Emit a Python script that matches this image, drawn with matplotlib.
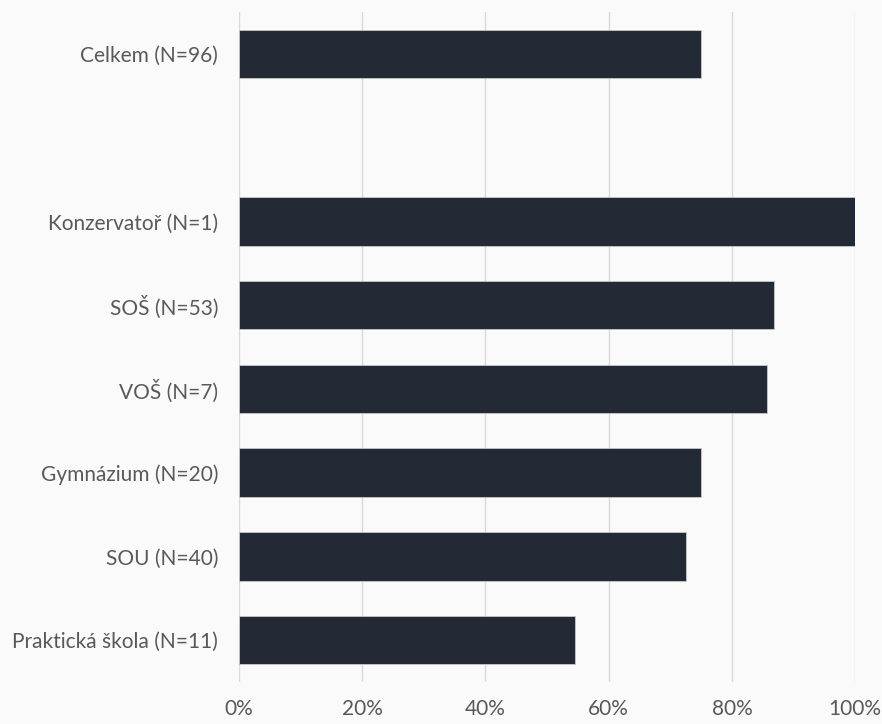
import matplotlib
matplotlib.use("Agg")
import matplotlib.pyplot as plt
from matplotlib.ticker import PercentFormatter

# ── Data ─────────────────────────────────────────────────────────────
total_label = "Celkem (N=96)"
total_value = 75.0

school_labels = [
    "Konzervatoř (N=1)",
    "SOŠ (N=53)",
    "VOŠ (N=7)",
    "Gymnázium (N=20)",
    "SOU (N=40)",
    "Praktická škola (N=11)",
]
school_values = [100.0, 86.8, 85.7, 75.0, 72.5, 54.5]

BAR_COLOR = "#242a35"
TEXT_COLOR = "#595959"
BG = "#fafafa"

plt.rcParams["font.family"] = ["Lato", "DejaVu Sans"]

fig = plt.figure(figsize=(8.82, 7.24), dpi=100, facecolor=BG)
ax = fig.add_axes([0.271, 0.058, 0.6985, 0.9254], facecolor=BG)

# total on top, one empty slot, then the school types
labels = [total_label] + school_labels
values = [total_value] + school_values
ypos = [0] + [i + 2 for i in range(len(school_labels))]

ax.barh(ypos, values, height=0.58, color=BAR_COLOR, edgecolor="#c8c8c8",
        linewidth=0.6, zorder=3)

ax.set_ylim(len(school_labels) + 1.5, -0.5)
ax.set_xlim(0, 100)
ax.set_yticks(ypos)
ax.set_yticklabels(labels)
ax.set_xticks(range(0, 101, 20))
ax.xaxis.set_major_formatter(PercentFormatter(decimals=0))

ax.tick_params(axis="both", length=0, labelsize=15, colors=TEXT_COLOR)
ax.tick_params(axis="y", pad=15)
ax.tick_params(axis="x", pad=12)
ax.grid(axis="x", color="#d9d9d9", linewidth=1, zorder=0)
for s in ax.spines.values():
    s.set_visible(False)

fig.savefig("out.png", dpi=100, facecolor=BG)
